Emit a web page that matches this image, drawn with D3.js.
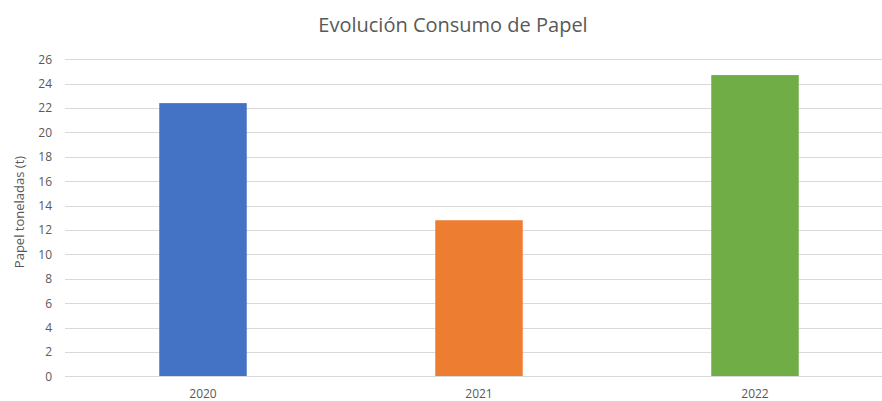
<!DOCTYPE html>
<html>
<head>
<meta charset="utf-8">
<script src="https://cdn.jsdelivr.net/npm/d3@7"></script>
<style>
  html, body { margin: 0; padding: 0; background: #fff; }
  svg { display: block; }
  text { font-family: "Open Sans", "Noto Sans", sans-serif; fill: #595959; }
</style>
</head>
<body>
<svg id="chart" width="882" height="401"></svg>
<script>
// Paper consumption per year (tonnes)
const years = ["2020", "2021", "2022"];
const tonnes = [22.4, 12.8, 24.7];
const barColors = ["#4472C4", "#ED7D31", "#70AD47"];
const yTicks = [0, 2, 4, 6, 8, 10, 12, 14, 16, 18, 20, 22, 24, 26];

const svg = d3.select("#chart");
const plot = { left: 65, right: 893, top: 59.2, bottom: 376.4 };

const x = d3.scaleBand()
  .domain(years)
  .range([plot.left, plot.right])
  .paddingInner(0.683)
  .paddingOuter(0.3415);

const y = d3.scaleLinear()
  .domain([0, 26])
  .range([plot.bottom, plot.top]);

// horizontal gridlines
svg.append("g")
  .selectAll("line")
  .data(yTicks.filter(d => d !== 0))
  .join("line")
  .attr("x1", plot.left)
  .attr("x2", plot.right)
  .attr("y1", d => Math.round(y(d)) + 0.5)
  .attr("y2", d => Math.round(y(d)) + 0.5)
  .attr("stroke", "#d9d9d9")
  .attr("stroke-width", 1);

// bars
svg.append("g")
  .selectAll("rect")
  .data(years.map((yr, i) => ({ yr, v: tonnes[i], c: barColors[i] })))
  .join("rect")
  .attr("x", d => x(d.yr))
  .attr("width", x.bandwidth())
  .attr("y", d => y(d.v))
  .attr("height", d => y(0) - y(d.v))
  .attr("fill", d => d.c);

// category axis
const xAxis = svg.append("g")
  .attr("transform", `translate(0,${Math.round(y(0)) + 0.5})`)
  .call(d3.axisBottom(x).tickSize(0).tickPadding(13));
xAxis.select(".domain").attr("stroke", "#d9d9d9").attr("d", `M${plot.left},0H${plot.right}`);
xAxis.selectAll("text")
  .style("font-family", '"Open Sans", "Noto Sans", sans-serif')
  .attr("font-size", 12)
  .attr("fill", "#595959");

// value axis
const yAxis = svg.append("g")
  .attr("transform", `translate(${plot.left},0)`)
  .call(d3.axisLeft(y).tickValues(yTicks).tickSize(0).tickPadding(13));
yAxis.select(".domain").remove();
yAxis.selectAll("text")
  .style("font-family", '"Open Sans", "Noto Sans", sans-serif')
  .attr("font-size", 12)
  .attr("fill", "#595959");

// axis title
svg.append("text")
  .attr("transform", "translate(24,212) rotate(-90)")
  .attr("text-anchor", "middle")
  .attr("font-size", 13)
  .text("Papel toneladas (t)");

// chart title
svg.append("text")
  .attr("x", 453)
  .attr("y", 32)
  .attr("text-anchor", "middle")
  .attr("font-size", 20)
  .text("Evolución Consumo de Papel");
</script>
</body>
</html>
